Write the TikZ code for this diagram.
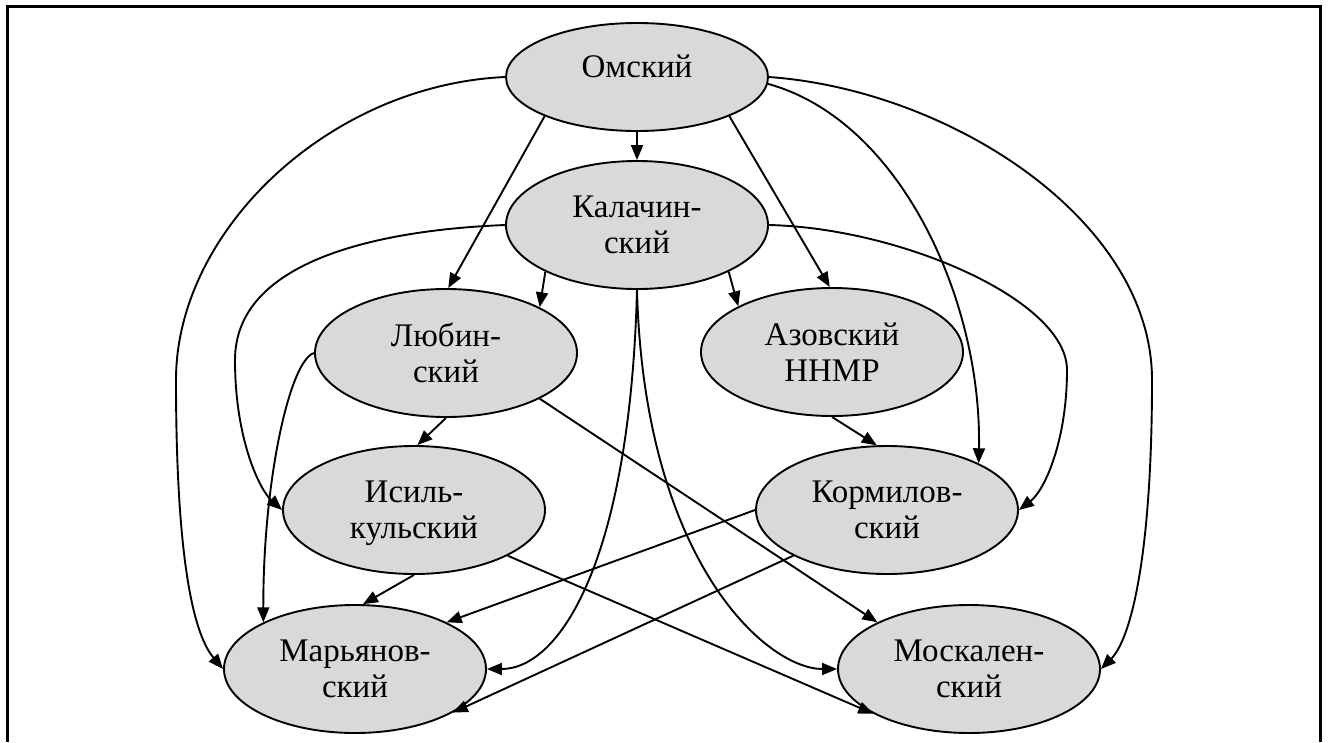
\documentclass[tikz,border=0pt]{standalone}
\usepackage{fontspec}
\setmainfont{Liberation Serif}
\usetikzlibrary{shapes.geometric,arrows.meta}
\begin{document}
\begin{tikzpicture}[x=1pt,y=-1pt,
  district/.style={ellipse, draw, line width=1.9pt, fill=black!15,
    minimum width=262pt, minimum height=128pt, inner sep=0pt,
    align=center, font=\fontsize{33}{36}\selectfont, text depth=0pt},
  link/.style={line width=1.9pt, -{Triangle[length=15pt,width=12pt]}},
  frame/.style={line width=3pt}]
\useasboundingbox (0,0) rectangle (1330,742);
% open frame around the scheme
\draw[frame] (7,742) -- (7,6) -- (1320,6) -- (1320,742);

% districts
\node[district, minimum height=108pt, text height=22pt, text depth=22pt] (om) at (637,77) {Омский};
\node[district] (ka) at (637,225) {Калачин-\\ский};
\node[district] (ly) at (446,353) {Любин-\\ский};
\node[district] (az) at (832,352) {Азовский\\ННМР};
\node[district] (is) at (414,510) {Исиль-\\кульский};
\node[district] (ko) at (887,510) {Кормилов-\\ский};
\node[district] (ma) at (355,669) {Марьянов-\\ский};
\node[district] (mo) at (969,669) {Москален-\\ский};

% links from Omsky
\draw[link] (om.south) -- (ka.north);
\draw[link] (om.203) -- (ly.88);
\draw[link] (om.337) -- (az.92);
\draw[link] (om.west) .. controls (330,85) and (176,230) .. (176,380)
  .. controls (176,540) and (190,630) .. (ma.west);
\draw[link] (om.east) .. controls (950,90) and (1152,220) .. (1152,380)
  .. controls (1152,560) and (1130,640) .. (mo.east);
\draw[link] (om.357) .. controls (900,120) and (982,300) .. (ko.27);

% links from Kalachinsky
\draw[link] (ka.207) -- (ly.26);
\draw[link] (ka.333) -- (az.154);
\draw[link] (ka.west) .. controls (380,230) and (235,260) .. (235,360)
  .. controls (235,440) and (260,490) .. (is.west);
\draw[link] (ka.east) .. controls (900,228) and (1067,300) .. (1067,370)
  .. controls (1067,440) and (1045,490) .. (ko.east);
\draw[link] (ka.south) .. controls (630,560) and (560,669) .. (ma.east);
\draw[link] (ka.south) .. controls (644,560) and (766,669) .. (mo.west);

% links from Lyubinsky
\draw[link] (ly.south) -- (is.87);
\draw[link] (ly.334) -- (mo.153);
\draw[link] (ly.west) .. controls (290,360) and (263,480) .. (ma.153);

% remaining links
\draw[link] (az.south) -- (ko.99);
\draw[link] (is.south) -- (ma.83);
\draw[link] (is.334) -- (mo.205);
\draw[link] (ko.west) -- (ma.27);
\draw[link] (ko.206) -- (ma.336);
\end{tikzpicture}
\end{document}
